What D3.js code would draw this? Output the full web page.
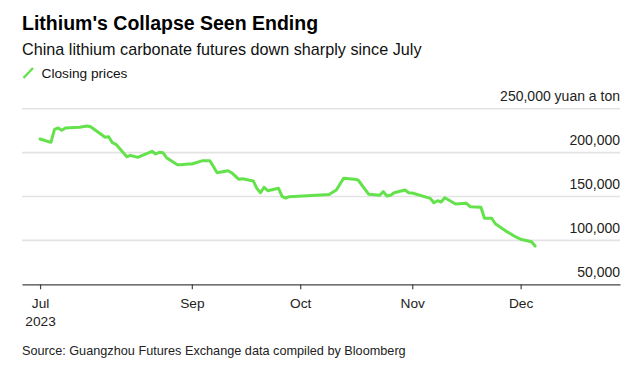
<!DOCTYPE html>
<html>
<head>
<meta charset="utf-8">
<script src="https://cdn.jsdelivr.net/npm/d3@7"></script>
<style>
  html, body { margin: 0; padding: 0; background: #fff; }
  svg { display: block; font-family: "Liberation Sans", Arial, sans-serif; }
</style>
</head>
<body>
<div id="chart"></div>
<script>
// closing prices, yuan a ton
const dates = [
  "2023-07-21", "2023-07-24", "2023-07-25", "2023-07-26", "2023-07-27", "2023-07-28",
  "2023-08-01", "2023-08-03", "2023-08-04", "2023-08-08", "2023-08-09", "2023-08-10",
  "2023-08-11", "2023-08-14", "2023-08-15", "2023-08-17", "2023-08-21", "2023-08-22",
  "2023-08-23", "2023-08-24", "2023-08-25", "2023-08-28", "2023-08-29", "2023-08-31",
  "2023-09-01", "2023-09-04", "2023-09-06", "2023-09-08", "2023-09-11", "2023-09-12",
  "2023-09-14", "2023-09-15", "2023-09-18", "2023-09-19", "2023-09-20", "2023-09-21",
  "2023-09-22", "2023-09-25", "2023-09-26", "2023-09-27", "2023-09-28", "2023-10-09",
  "2023-10-11", "2023-10-13", "2023-10-16", "2023-10-17", "2023-10-20", "2023-10-23",
  "2023-10-24", "2023-10-25", "2023-10-26", "2023-10-27", "2023-10-30", "2023-10-31",
  "2023-11-01", "2023-11-06", "2023-11-07", "2023-11-08", "2023-11-09", "2023-11-10",
  "2023-11-13", "2023-11-16", "2023-11-17", "2023-11-20", "2023-11-21", "2023-11-23",
  "2023-11-24", "2023-11-27", "2023-11-29", "2023-12-01", "2023-12-04", "2023-12-05"
];
const prices = [
  215500, 211700, 226500, 228000, 225400, 228000,
  228800, 230300, 229500, 217400, 218100, 211300,
  209500, 195300, 196900, 194600, 201500, 198400,
  200300, 199900, 194200, 186200, 186200, 187000,
  187000, 190800, 190800, 177100, 179400, 177100,
  169600, 170300, 167700, 159300, 154300, 160500,
  156600, 159300, 149800, 148300, 149800, 152300,
  157400, 170700, 169600, 168800, 152500, 151400,
  155500, 150600, 151400, 154300, 157400, 154300,
  154000, 147900, 142900, 145200, 143700, 148600,
  141500, 142300, 138400, 137700, 125200, 125200,
  119000, 110500, 105500, 101300, 98500, 93600
];
const yTicks = [50000, 100000, 150000, 200000, 250000];
const xTickDates = ["2023-07-21", "2023-09-01", "2023-10-01", "2023-11-01", "2023-12-01"];
const xTickLabels = ["Jul", "Sep", "Oct", "Nov", "Dec"];

const W = 640, H = 368;
const parse = d3.timeParse("%Y-%m-%d");
const data = dates.map((d, i) => ({ date: parse(d), value: prices[i] }));

const svg = d3.select("#chart").append("svg")
  .attr("width", W)
  .attr("height", H);

// header
svg.append("text")
  .attr("x", 22).attr("y", 29.5)
  .attr("font-size", "19.5px")
  .attr("font-weight", "bold")
  .attr("fill", "#000")
  .text("Lithium's Collapse Seen Ending");

svg.append("text")
  .attr("x", 22).attr("y", 54.5)
  .attr("font-size", "16.2px")
  .attr("fill", "#111")
  .text("China lithium carbonate futures down sharply since July");

// legend
svg.append("line")
  .attr("x1", 23.5).attr("y1", 78)
  .attr("x2", 33).attr("y2", 68)
  .attr("stroke", "#64e24c")
  .attr("stroke-width", 2.5);
svg.append("text")
  .attr("x", 41.5).attr("y", 77.5)
  .attr("font-size", "13.7px")
  .attr("fill", "#111")
  .text("Closing prices");

// scales
const x = d3.scaleTime()
  .domain([new Date(2023, 6, 16), new Date(2023, 11, 28, 12)])
  .range([22, 620]);
const y = d3.scaleLinear()
  .domain([50000, 250000])
  .range([284.3, 108.7]);

// gridlines + labels
const grid = svg.append("g").attr("class", "grid");
grid.selectAll("line")
  .data(yTicks.filter(v => v > 50000))
  .enter().append("line")
  .attr("x1", 22).attr("x2", 620)
  .attr("y1", d => y(d)).attr("y2", d => y(d))
  .attr("stroke", "#e3e3e3")
  .attr("stroke-width", 1.6);

grid.selectAll("text")
  .data(yTicks)
  .enter().append("text")
  .attr("x", 620)
  .attr("y", d => y(d) - 7.5)
  .attr("text-anchor", "end")
  .attr("font-size", "14px")
  .attr("fill", "#222")
  .text(d => d3.format(",")(d) + (d === 250000 ? " yuan a ton" : ""));

// x axis
const xAxis = d3.axisBottom(x)
  .tickValues(xTickDates.map(parse))
  .tickFormat((d, i) => xTickLabels[i])
  .tickSize(5)
  .tickSizeOuter(0);

const gx = svg.append("g")
  .attr("transform", `translate(0,${y(50000)})`)
  .call(xAxis);
gx.select(".domain")
  .attr("stroke", "#444")
  .attr("stroke-width", 1.3);
gx.selectAll(".tick line")
  .attr("stroke", "#444")
  .attr("stroke-width", 1.2);
gx.selectAll(".tick text")
  .attr("font-family", "Liberation Sans, Arial, sans-serif")
  .attr("font-size", "13.7px")
  .attr("fill", "#222")
  .attr("dy", 0)
  .attr("y", 23.5);
gx.select(".tick text")
  .append("tspan")
  .attr("x", 0)
  .attr("dy", 18)
  .text("2023");

// price line
const line = d3.line()
  .x(d => x(d.date))
  .y(d => y(d.value));

svg.append("path")
  .datum(data)
  .attr("fill", "none")
  .attr("stroke", "#64e24c")
  .attr("stroke-width", 3)
  .attr("stroke-linejoin", "round")
  .attr("stroke-linecap", "round")
  .attr("d", line);

// source
svg.append("text")
  .attr("x", 22).attr("y", 355)
  .attr("font-size", "12.7px")
  .attr("fill", "#222")
  .text("Source: Guangzhou Futures Exchange data compiled by Bloomberg");
</script>
</body>
</html>
